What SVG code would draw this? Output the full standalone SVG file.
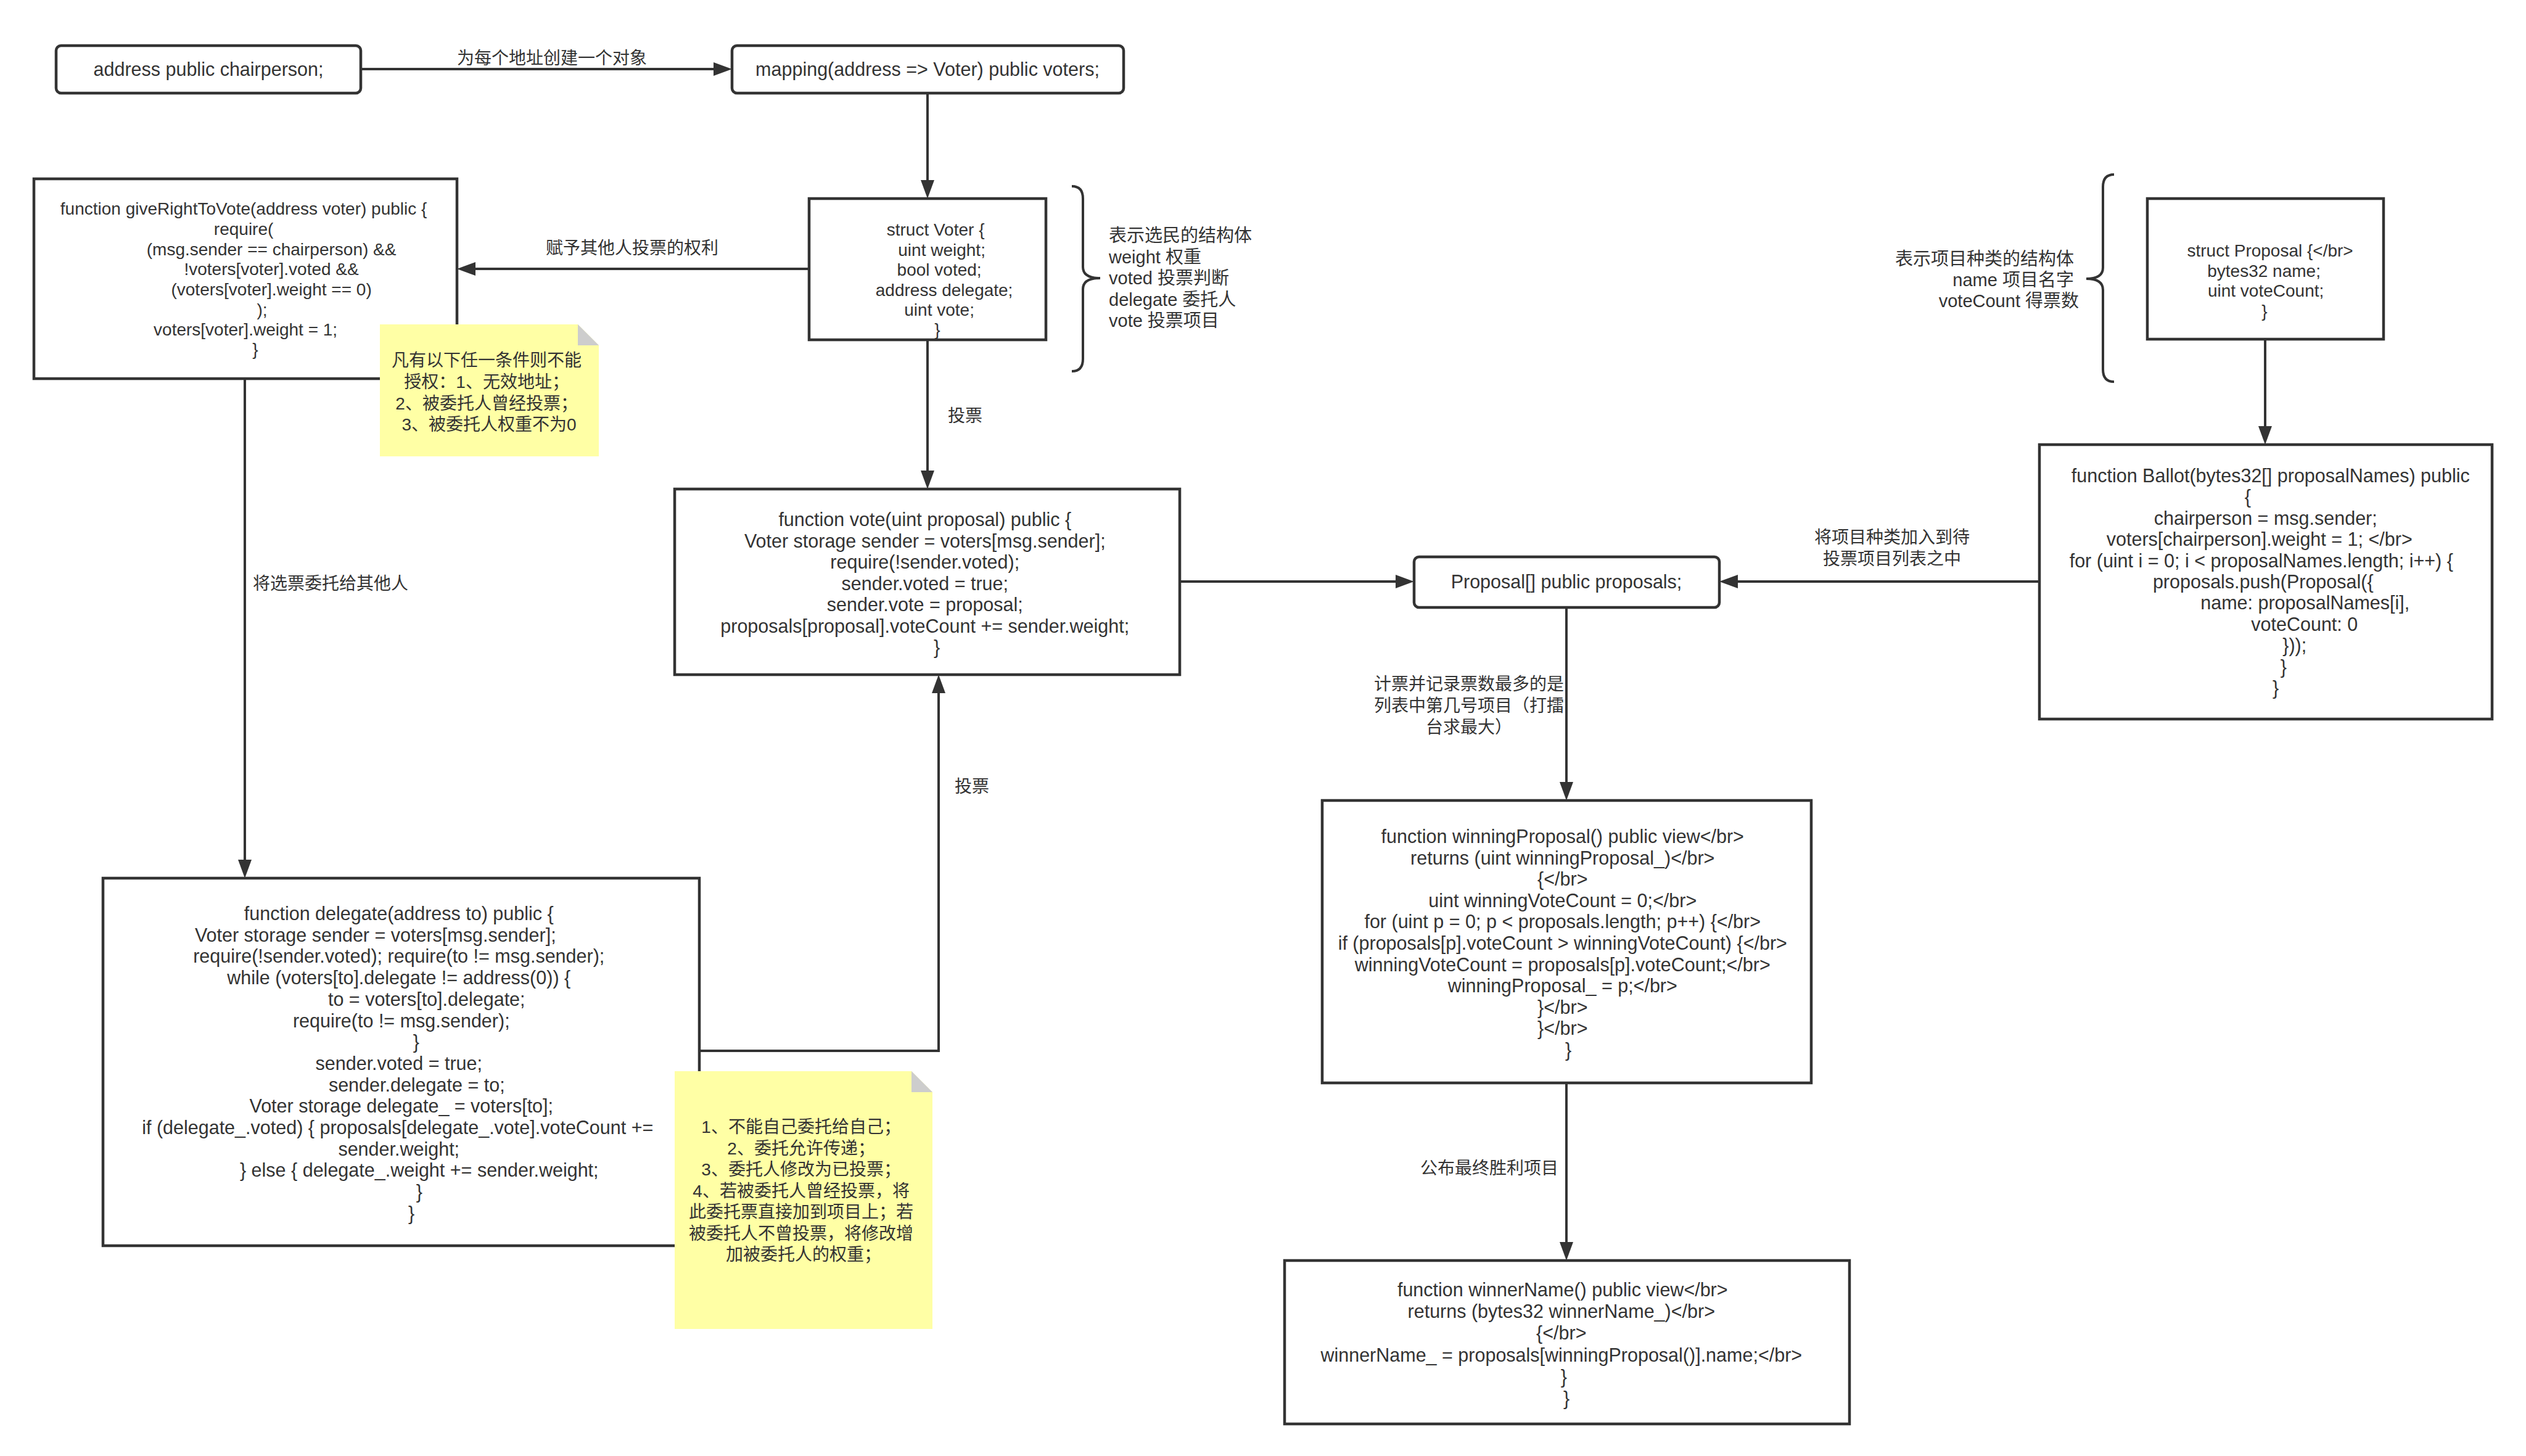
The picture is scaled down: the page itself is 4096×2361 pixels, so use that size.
<svg xmlns="http://www.w3.org/2000/svg" width="4096" height="2361" viewBox="0 0 4096 2361">
<style>
.box{fill:#fff;stroke:#333;stroke-width:4.5}
.note{fill:#ffffa5}
.fold{fill:#cdcdcd}
.conn{fill:none;stroke:#333;stroke-width:4}
.brace{fill:none;stroke:#333;stroke-width:4}
text{font-family:"Liberation Sans","Noto Sans CJK SC",sans-serif;fill:#333;dominant-baseline:central}
.c{text-anchor:middle}
.s28{font-size:28px}
.s30{font-size:30.5px}
.s29{font-size:29px}
.l{text-anchor:start}
.r{text-anchor:end}
</style>
<defs>
<marker id="arr" markerUnits="userSpaceOnUse" markerWidth="30" markerHeight="22" refX="5" refY="11" orient="auto" viewBox="0 0 30 22">
<path d="M0,0 L30,11 L0,22 z" fill="#333"/>
</marker>
</defs>
<rect width="4096" height="2361" fill="#fff"/>

<g id="connectors">
<line class="conn" x1="585" y1="112" x2="1162" y2="112" marker-end="url(#arr)"/>
<line class="conn" x1="1504" y1="151" x2="1504" y2="297" marker-end="url(#arr)"/>
<line class="conn" x1="1312" y1="436" x2="766" y2="436" marker-end="url(#arr)"/>
<line class="conn" x1="1504" y1="551" x2="1504" y2="768" marker-end="url(#arr)"/>
<line class="conn" x1="397" y1="614" x2="397" y2="1399" marker-end="url(#arr)"/>
<path class="conn" d="M1134,1704 L1522,1704 L1522,1119" marker-end="url(#arr)"/>
<line class="conn" x1="1913" y1="943" x2="2268" y2="943" marker-end="url(#arr)"/>
<line class="conn" x1="3307" y1="943" x2="2813" y2="943" marker-end="url(#arr)"/>
<line class="conn" x1="3673" y1="550" x2="3673" y2="696" marker-end="url(#arr)"/>
<line class="conn" x1="2540" y1="985" x2="2540" y2="1273" marker-end="url(#arr)"/>
<line class="conn" x1="2540" y1="1756" x2="2540" y2="2019" marker-end="url(#arr)"/>
<text class="c s28" x="895" y="94">为每个地址创建一个对象</text>
<text class="c s28" x="1025" y="402">赋予其他人投票的权利</text>
<text class="c s28" x="1565" y="674">投票</text>
<text class="c s28" x="536" y="946">将选票委托给其他人</text>
<text class="c s28" x="1576" y="1275">投票</text>
<text class="c s28" x="3068" y="871">将项目种类加入到待</text>
<text class="c s28" x="3068" y="906">投票项目列表之中</text>
<text class="c s28" x="2382" y="1109">计票并记录票数最多的是</text>
<text class="c s28" x="2382" y="1144">列表中第几号项目（打擂</text>
<text class="c s28" x="2382" y="1179">台求最大）</text>
<text class="c s28" x="2415" y="1894">公布最终胜利项目</text>
</g>

<g id="chairperson">
<rect class="box" x="91" y="74" width="494" height="77" rx="8"/>
<text class="c s30" x="338" y="112">address public chairperson;</text>
</g>

<g id="voters">
<rect class="box" x="1187" y="74" width="635" height="77" rx="8"/>
<text class="c s30" x="1504" y="112">mapping(address =&gt; Voter) public voters;</text>
</g>

<g id="giveRightToVote">
<rect class="box" x="55" y="290" width="686" height="324"/>
<text class="c s28">
<tspan x="399" y="338">function giveRightToVote(address voter) public {</tspan>
<tspan x="399" y="371">require(</tspan>
<tspan x="444" y="404">(msg.sender == chairperson) &amp;&amp;</tspan>
<tspan x="444" y="436">!voters[voter].voted &amp;&amp;</tspan>
<tspan x="444" y="469">(voters[voter].weight == 0)</tspan>
<tspan x="429" y="502">);</tspan>
<tspan x="402" y="534">voters[voter].weight = 1;</tspan>
<tspan x="414" y="566">}</tspan>
</text>
</g>

<g id="note1">
<path class="note" d="M616,526 L937,526 L971,560 L971,740 L616,740 z"/>
<path class="fold" d="M937,526 L937,560 L971,560 z"/>
<text class="c s28">
<tspan x="793" y="584">凡有以下任一条件则不能</tspan>
<tspan x="793" y="619">授权：1、无效地址；</tspan>
<tspan x="793" y="654">2、被委托人曾经投票；</tspan>
<tspan x="793" y="688">3、被委托人权重不为0</tspan>
</text>
</g>

<g id="structVoter">
<rect class="box" x="1312" y="322" width="384" height="229"/>
<text class="c s28">
<tspan x="1521" y="372">struct Voter {</tspan>
<tspan x="1531" y="404.5">uint weight;</tspan>
<tspan x="1527" y="437">bool voted;</tspan>
<tspan x="1535" y="469.5">address delegate;</tspan>
<tspan x="1527" y="502">uint vote;</tspan>
<tspan x="1520" y="534">}</tspan>
</text>
</g>

<g id="voterBrace">
<path class="brace" d="M1738,302 Q1756,302 1756,322 L1756,433 Q1756,451 1784,451 Q1756,451 1756,469 L1756,582 Q1756,602 1738,602"/>
<text class="l s29">
<tspan x="1798" y="382">表示选民的结构体</tspan>
<tspan x="1798" y="416.5">weight 权重</tspan>
<tspan x="1798" y="451">voted 投票判断</tspan>
<tspan x="1798" y="485.5">delegate 委托人</tspan>
<tspan x="1798" y="520">vote 投票项目</tspan>
</text>
</g>

<g id="vote">
<rect class="box" x="1094" y="793" width="819" height="301"/>
<text class="c s30">
<tspan x="1504" y="842">function vote(uint proposal) public {</tspan>
<tspan x="1504" y="876.5">Voter storage sender = voters[msg.sender];</tspan>
<tspan x="1504" y="911">require(!sender.voted);</tspan>
<tspan x="1504" y="945.5">sender.voted = true;</tspan>
<tspan x="1504" y="980">sender.vote = proposal;</tspan>
<tspan x="1504" y="1014.5">proposals[proposal].voteCount += sender.weight;</tspan>
<tspan x="1519" y="1049">}</tspan>
</text>
</g>

<g id="delegate">
<rect class="box" x="167" y="1424" width="967" height="596"/>
<text class="c s30">
<tspan x="651" y="1481">function delegate(address to) public {</tspan>
<tspan x="613" y="1515.7">Voter storage sender = voters[msg.sender];</tspan>
<tspan x="651" y="1550.4">require(!sender.voted); require(to != msg.sender);</tspan>
<tspan x="651" y="1585.1">while (voters[to].delegate != address(0)) {</tspan>
<tspan x="696" y="1619.8">to = voters[to].delegate;</tspan>
<tspan x="655" y="1654.5">require(to != msg.sender);</tspan>
<tspan x="679" y="1689.2">}</tspan>
<tspan x="651" y="1723.9">sender.voted = true;</tspan>
<tspan x="680" y="1758.6">sender.delegate = to;</tspan>
<tspan x="655" y="1793.3">Voter storage delegate_ = voters[to];</tspan>
<tspan x="649" y="1828">if (delegate_.voted) { proposals[delegate_.vote].voteCount +=</tspan>
<tspan x="651" y="1862.7">sender.weight;</tspan>
<tspan x="684" y="1897.4">} else { delegate_.weight += sender.weight;</tspan>
<tspan x="684" y="1932.1">}</tspan>
<tspan x="667" y="1966.8">}</tspan>
</text>
</g>

<g id="note2">
<path class="note" d="M1094,1737 L1478,1737 L1512,1771 L1512,2155 L1094,2155 z"/>
<path class="fold" d="M1478,1737 L1478,1771 L1512,1771 z"/>
<text class="c s28">
<tspan x="1303" y="1827">1、不能自己委托给自己；</tspan>
<tspan x="1303" y="1861.5">2、委托允许传递；</tspan>
<tspan x="1303" y="1896">3、委托人修改为已投票；</tspan>
<tspan x="1303" y="1930.5">4、若被委托人曾经投票，将</tspan>
<tspan x="1303" y="1965">此委托票直接加到项目上；若</tspan>
<tspan x="1303" y="1999.5">被委托人不曾投票，将修改增</tspan>
<tspan x="1303" y="2034">加被委托人的权重；</tspan>
</text>
</g>

<g id="proposals">
<rect class="box" x="2293" y="903" width="495" height="82" rx="8"/>
<text class="c s30" x="2540" y="943">Proposal[] public proposals;</text>
</g>

<g id="structProposal">
<rect class="box" x="3482" y="322" width="383" height="228"/>
<text class="c s28">
<tspan x="3685" y="406">struct Proposal {&lt;/br&gt;</tspan>
<tspan x="3675" y="439">bytes32 name;</tspan>
<tspan x="3678" y="471">uint voteCount;</tspan>
<tspan x="3672" y="504">}</tspan>
</text>
</g>

<g id="proposalBrace">
<path class="brace" d="M3428,283 Q3410,283 3410,303 L3410,434 Q3410,452 3383,452 Q3410,452 3410,470 L3410,599 Q3410,619 3428,619"/>
<text class="r s29">
<tspan x="3371" y="420">表示项目种类的结构体</tspan>
<tspan x="3371" y="454">name 项目名字</tspan>
<tspan x="3371" y="488">voteCount 得票数</tspan>
</text>
</g>

<g id="ballot">
<rect class="box" x="3307" y="721" width="734" height="445"/>
<text class="c s30">
<tspan x="3686" y="771">function Ballot(bytes32[] proposalNames) public</tspan>
<tspan x="3649" y="805.4">{</tspan>
<tspan x="3678" y="839.8">chairperson = msg.sender;</tspan>
<tspan x="3668" y="874.2">voters[chairperson].weight = 1; &lt;/br&gt;</tspan>
<tspan x="3671" y="908.6">for (uint i = 0; i &lt; proposalNames.length; i++) {</tspan>
<tspan x="3674" y="943">proposals.push(Proposal({</tspan>
<tspan x="3742" y="977.4">name: proposalNames[i],</tspan>
<tspan x="3741" y="1011.8">voteCount: 0</tspan>
<tspan x="3725" y="1046.2">}));</tspan>
<tspan x="3707" y="1080.6">}</tspan>
<tspan x="3690" y="1115">}</tspan>
</text>
</g>

<g id="winningProposal">
<rect class="box" x="2144" y="1298" width="793" height="458"/>
<text class="c s30">
<tspan x="2538" y="1356">function winningProposal() public view&lt;/br&gt;</tspan>
<tspan x="2538" y="1390.6">returns (uint winningProposal_)&lt;/br&gt;</tspan>
<tspan x="2538" y="1425.2">{&lt;/br&gt;</tspan>
<tspan x="2538" y="1459.8">uint winningVoteCount = 0;&lt;/br&gt;</tspan>
<tspan x="2538" y="1494.4">for (uint p = 0; p &lt; proposals.length; p++) {&lt;/br&gt;</tspan>
<tspan x="2538" y="1529">if (proposals[p].voteCount &gt; winningVoteCount) {&lt;/br&gt;</tspan>
<tspan x="2538" y="1563.6">winningVoteCount = proposals[p].voteCount;&lt;/br&gt;</tspan>
<tspan x="2538" y="1598.2">winningProposal_ = p;&lt;/br&gt;</tspan>
<tspan x="2538" y="1632.8">}&lt;/br&gt;</tspan>
<tspan x="2538" y="1667.4">}&lt;/br&gt;</tspan>
<tspan x="2543" y="1702">}</tspan>
</text>
</g>

<g id="winnerName">
<rect class="box" x="2083" y="2044" width="916" height="265"/>
<text class="c s30">
<tspan x="2538" y="2091">function winnerName() public view&lt;/br&gt;</tspan>
<tspan x="2536" y="2126">returns (bytes32 winnerName_)&lt;/br&gt;</tspan>
<tspan x="2536" y="2161">{&lt;/br&gt;</tspan>
<tspan x="2536" y="2197">winnerName_ = proposals[winningProposal()].name;&lt;/br&gt;</tspan>
<tspan x="2540" y="2232">}</tspan>
<tspan x="2540" y="2267">}</tspan>
</text>
</g>
</svg>
